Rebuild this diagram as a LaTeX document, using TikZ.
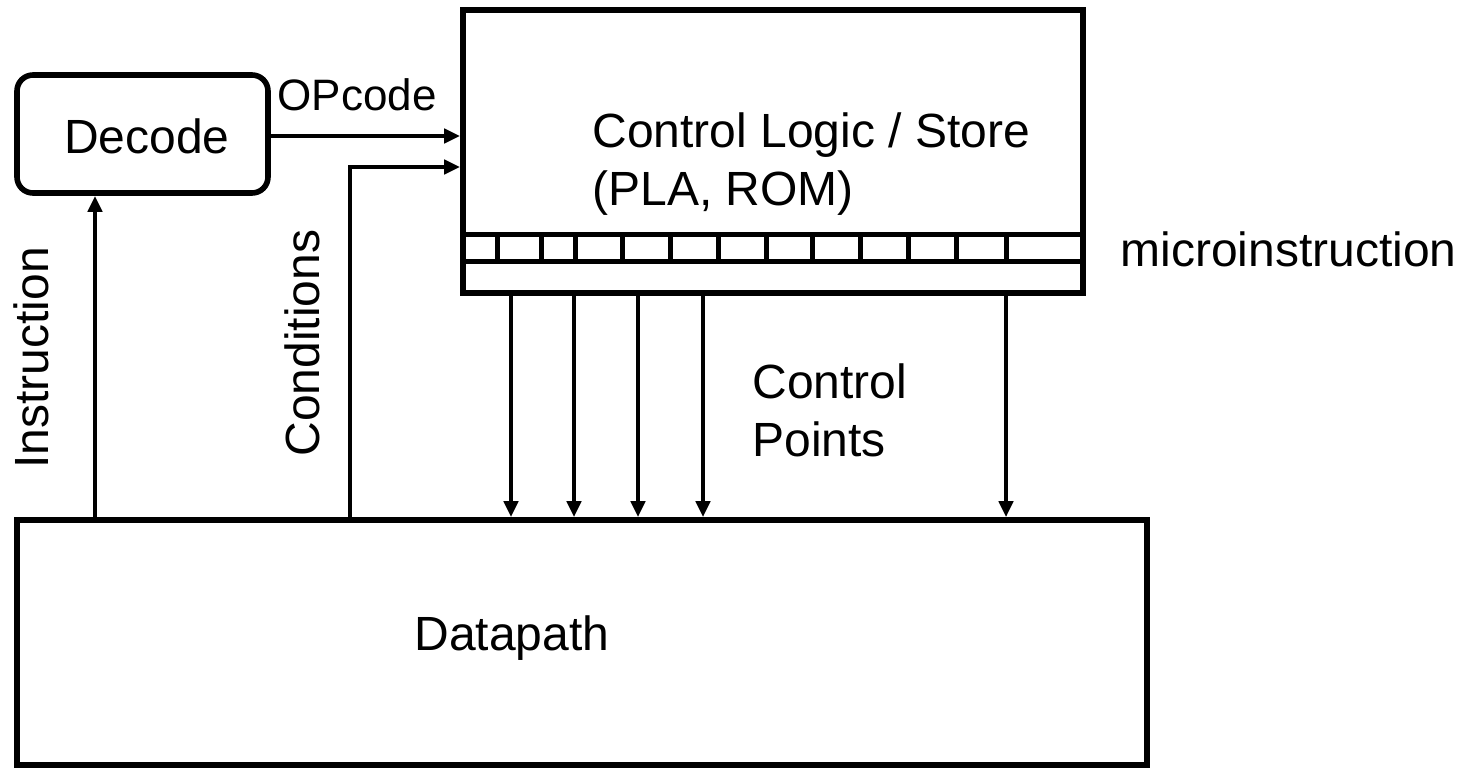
\documentclass[tikz,border=0pt]{standalone}
\usepackage{fontspec}
\setmainfont{Liberation Sans}
\usetikzlibrary{arrows.meta}
\begin{document}
\begin{tikzpicture}[x=0.5pt,y=-0.5pt,
  box/.style={draw,line width=2.8pt,inner sep=0pt},
  wire/.style={line width=2pt,-{Triangle[length=8pt,width=7pt]}},
  lbl/.style={font=\fontsize{24pt}{29pt}\selectfont,inner sep=0pt},
  slot/.style={line width=2.5pt}]
\useasboundingbox (0,0) rectangle (1460,772);

% blocks
\node[box,rounded corners=8pt,minimum width=125.5pt,minimum height=59pt] (dec) at (142.5,134) {};
\node[lbl] at (147,136) {Decode};
\node[box,minimum width=310pt,minimum height=141.5pt] (ctrl) at (773,151.5) {};
\node[box,minimum width=565pt,minimum height=122.5pt] (dp) at (582,642.5) {};
\node[lbl] at (512,638) {Datapath};

% microinstruction register strip
\coordinate (mtl) at (463,234);
\coordinate (mbr) at (1083,261);
\draw[slot] (mtl) -- (mtl -| mbr);
\draw[slot] (mtl |- mbr) -- (mbr);
\foreach \x in {497,541,575,622,670,718,766,812,860,908,956,1006}
  \draw[slot] (\x,234) -- (\x,261);
\node[lbl,anchor=west] (mi) at (1120,249) {microinstruction};

% control store text
\node[lbl,anchor=west,align=left] (cls) at (592,164)
  {Control Logic / Store\\(PLA, ROM)};

% decode -> control store
\draw[wire] (dec.east |- 0,136) -- (ctrl.west |- 0,136);
\node[lbl,font=\fontsize{22pt}{26pt}\selectfont] (op) at (357,95) {OPcode};

% datapath -> decode
\coordinate (ins) at (95,520);
\draw[wire] (ins) -- (ins |- dec.south);
\node[lbl,rotate=90] (insl) at (31,358) {Instruction};

% datapath conditions -> control store
\coordinate (cnd) at (350,520);
\coordinate (cndt) at (350,167);
\draw[wire] (cnd) -- (cndt) -- (cndt -| ctrl.west);
\node[lbl,rotate=90] (cndl) at (302,343) {Conditions};

% control points
\foreach \x in {511,574,638,703,1006}{
  \coordinate (cp) at (\x,293);
  \draw[wire] (cp) -- (cp |- dp.north);
}
\node[lbl,anchor=west,align=left] (cpl) at (752,410) {Control\\Points};
\end{tikzpicture}
\end{document}
